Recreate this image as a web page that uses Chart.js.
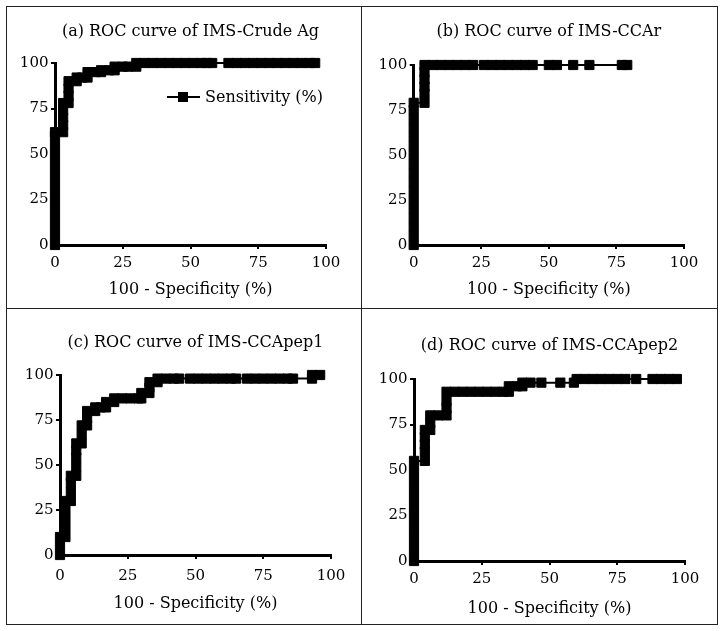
<!DOCTYPE html>
<html>
<head>
<meta charset="utf-8">
<script src="https://cdn.jsdelivr.net/npm/chart.js@4.4.1/dist/chart.umd.min.js"></script>
<style>
  body { margin: 0; background: #fff; }
  #page { position: relative; width: 724px; height: 631px; background: #fff; }
  #page canvas { position: absolute; }
  .rule { position: absolute; background: #222; }
</style>
</head>
<body>
<div id="page">
  <div class="rule" style="left:6px;top:6px;width:712px;height:1px"></div>
  <div class="rule" style="left:6px;top:624px;width:712px;height:1px"></div>
  <div class="rule" style="left:6px;top:6px;width:1px;height:619px"></div>
  <div class="rule" style="left:717px;top:6px;width:1px;height:619px"></div>
  <div class="rule" style="left:361px;top:6px;width:1px;height:619px"></div>
  <div class="rule" style="left:6px;top:308px;width:712px;height:1px"></div>
  <canvas id="chartA" width="354" height="301" style="left:7px;top:7px"></canvas>
  <canvas id="chartB" width="354" height="301" style="left:362px;top:7px"></canvas>
  <canvas id="chartC" width="354" height="315" style="left:7px;top:309px"></canvas>
  <canvas id="chartD" width="354" height="315" style="left:362px;top:309px"></canvas>
</div>
<script>
const tickValues = [0, 25, 50, 75, 100];
const xAxisTitle = "100 - Specificity (%)";
const seriesLabel = "Sensitivity (%)";

// (a) crude antigen
const titleA = "(a) ROC curve of IMS-Crude Ag";
const specA = [0, 0, 0, 0, 0, 0, 0, 0, 0, 0, 0, 0, 0, 0,
    3, 3, 3, 3, 3, 5, 5, 5, 5, 8, 8, 10, 12, 12, 15, 17, 17, 20, 22, 22, 25, 27, 30,
    30, 33, 36, 39, 42, 45, 48, 51, 54, 56, 58,
    64, 67, 70, 73, 76, 79, 82, 85, 88, 91, 94, 96];
const sensA = [0, 5, 10, 15, 20, 25, 30, 35, 40, 45, 50, 55, 60, 62,
    62, 66, 70, 74, 78, 78, 82, 86, 90, 90, 92, 92, 92, 95, 95, 95, 96, 96, 96, 98, 98, 98, 98,
    100, 100, 100, 100, 100, 100, 100, 100, 100, 100, 100,
    100, 100, 100, 100, 100, 100, 100, 100, 100, 100, 100, 100];

// (b) CCAr
const titleB = "(b) ROC curve of IMS-CCAr";
const specB = [0, 0, 0, 0, 0, 0, 0, 0, 0, 0, 0, 0, 0, 0, 0, 0, 0,
    4, 4, 4, 4, 4, 4,
    7, 10, 13, 16, 19, 22, 26, 29, 32, 35, 38, 41, 44,
    50, 53, 59, 65, 77, 79];
const sensB = [0, 5, 10, 15, 20, 25, 30, 35, 40, 45, 50, 55, 60, 65, 70, 75, 79,
    79, 84, 88, 92, 96, 100,
    100, 100, 100, 100, 100, 100, 100, 100, 100, 100, 100, 100, 100,
    100, 100, 100, 100, 100, 100];

// (c) CCApep1
const titleC = "(c) ROC curve of IMS-CCApep1";
const specC = [0, 0, 0, 2, 2, 2, 2, 2, 4, 4, 4, 4, 6, 6, 6, 6, 6, 8, 8, 8, 10, 10, 10,
    13, 13, 15, 17, 17, 20, 20, 23, 26, 29, 30, 30, 33, 33, 33, 36, 36,
    39, 42, 44, 48, 51, 54, 57, 60, 63, 65, 69, 72, 75, 78, 81, 84, 86,
    93, 93, 96];
const sensC = [0, 5, 10, 10, 15, 20, 25, 30, 30, 35, 40, 44, 44, 49, 54, 58, 62, 62, 67, 72, 72, 76, 80,
    80, 82, 82, 82, 85, 85, 87, 87, 87, 87, 87, 90, 90, 93, 96, 96, 98,
    98, 98, 98, 98, 98, 98, 98, 98, 98, 98, 98, 98, 98, 98, 98, 98, 98,
    98, 100, 100];

// (d) CCApep2
const titleD = "(d) ROC curve of IMS-CCApep2";
const specD = [0, 0, 0, 0, 0, 0, 0, 0, 0, 0, 0, 0,
    4, 4, 4, 4, 4, 6, 6, 6, 9, 12, 12, 12, 12,
    15, 18, 21, 24, 27, 30, 33, 35, 35, 38, 40, 40, 43, 47,
    54, 59, 60, 63, 66, 69, 72, 75, 78, 82,
    88, 91, 94, 97];
const sensD = [0, 5, 10, 15, 20, 25, 30, 35, 40, 45, 50, 55,
    55, 60, 64, 68, 72, 72, 76, 80, 80, 80, 84, 88, 93,
    93, 93, 93, 93, 93, 93, 93, 93, 96, 96, 96, 98, 98, 98,
    98, 98, 100, 100, 100, 100, 100, 100, 100, 100,
    100, 100, 100, 100];

Chart.defaults.font.family = '"DejaVu Serif", serif';
Chart.defaults.color = "#000";

// legend drawn inside the plot, right under the top line (panel a only)
const insideLegend = {
    id: "insideLegend",
    afterDatasetsDraw(chart) {
        const ctx = chart.ctx;
        const area = chart.chartArea;
        const y = area.top + 34;
        const x0 = area.right - 159;
        ctx.save();
        ctx.strokeStyle = "#000";
        ctx.lineWidth = 2;
        ctx.beginPath();
        ctx.moveTo(x0, y);
        ctx.lineTo(x0 + 33, y);
        ctx.stroke();
        ctx.fillStyle = "#000";
        ctx.fillRect(x0 + 11, y - 5, 10, 10);
        ctx.font = '16px "DejaVu Serif"';
        ctx.textBaseline = "middle";
        ctx.fillText(chart.data.datasets[0].label, x0 + 38, y + 1);
        ctx.restore();
    }
};

function rocChart(id, title, spec, sens, box, plugins) {
    const points = spec.map((x, i) => ({ x: x, y: sens[i] }));
    return new Chart(id, {
        type: "line",
        data: {
            datasets: [{
                label: seriesLabel,
                data: points,
                borderColor: "#000",
                backgroundColor: "#000",
                borderWidth: 2,
                pointStyle: "rect",
                pointRadius: 6.5,
                pointBorderWidth: 1,
                pointHoverRadius: 6.5,
                tension: 0,
                clip: false
            }]
        },
        options: {
            responsive: false,
            animation: false,
            events: [],
            layout: { padding: { left: box.padL, right: box.padR, top: 0, bottom: 0 } },
            plugins: {
                legend: { display: false },
                tooltip: { enabled: false },
                title: {
                    display: true,
                    text: title,
                    fullSize: false,
                    font: { size: 16, weight: "normal" },
                    color: "#000",
                    padding: { top: box.titleTop, bottom: box.titleBottom }
                }
            },
            scales: {
                x: {
                    type: "linear",
                    min: 0,
                    max: 100,
                    afterBuildTicks: s => { s.ticks = tickValues.map(v => ({ value: v })); },
                    afterFit: s => { s.height = box.axisH; s.paddingLeft = 0; s.paddingRight = 0; },
                    ticks: { font: { size: 15 }, color: "#000", padding: box.labelPad, maxRotation: 0 },
                    grid: { drawOnChartArea: false, drawTicks: true, tickLength: 4, color: "#000", lineWidth: 2 },
                    border: { display: true, color: "#000", width: 3 },
                    title: {
                        display: true,
                        text: xAxisTitle,
                        font: { size: 16 },
                        color: "#000",
                        padding: { top: 0, bottom: box.xTitleBottom }
                    }
                },
                y: {
                    type: "linear",
                    min: 0,
                    max: 100,
                    afterBuildTicks: s => { s.ticks = tickValues.map(v => ({ value: v })); },
                    afterFit: s => { s.width = 46; s.paddingTop = 0; s.paddingBottom = 0; },
                    ticks: { font: { size: 15 }, color: "#000", padding: 2.5 },
                    grid: { drawOnChartArea: false, drawTicks: true, tickLength: 4, color: "#000", lineWidth: 2 },
                    border: { display: true, color: "#000", width: 3 }
                }
            }
        },
        plugins: plugins || []
    });
}

rocChart("chartA", titleA, specA, sensA,
    { padL: 2, padR: 35, titleTop: 14.9, titleBottom: 21.9, axisH: 63, labelPad: 5.4, xTitleBottom: 8.4 },
    [insideLegend]);
rocChart("chartB", titleB, specB, sensB,
    { padL: 5.7, padR: 32, titleTop: 15.4, titleBottom: 23.4, axisH: 63, labelPad: 5.4, xTitleBottom: 8.4 });
rocChart("chartC", titleC, specC, sensC,
    { padL: 7, padR: 30, titleTop: 23.9, titleBottom: 22.9, axisH: 69, labelPad: 8.4, xTitleBottom: 10.9 });
rocChart("chartD", titleD, specD, sensD,
    { padL: 6, padR: 31, titleTop: 27.4, titleBottom: 23.4, axisH: 63, labelPad: 5.4, xTitleBottom: 5.9 });
</script>
</body>
</html>
